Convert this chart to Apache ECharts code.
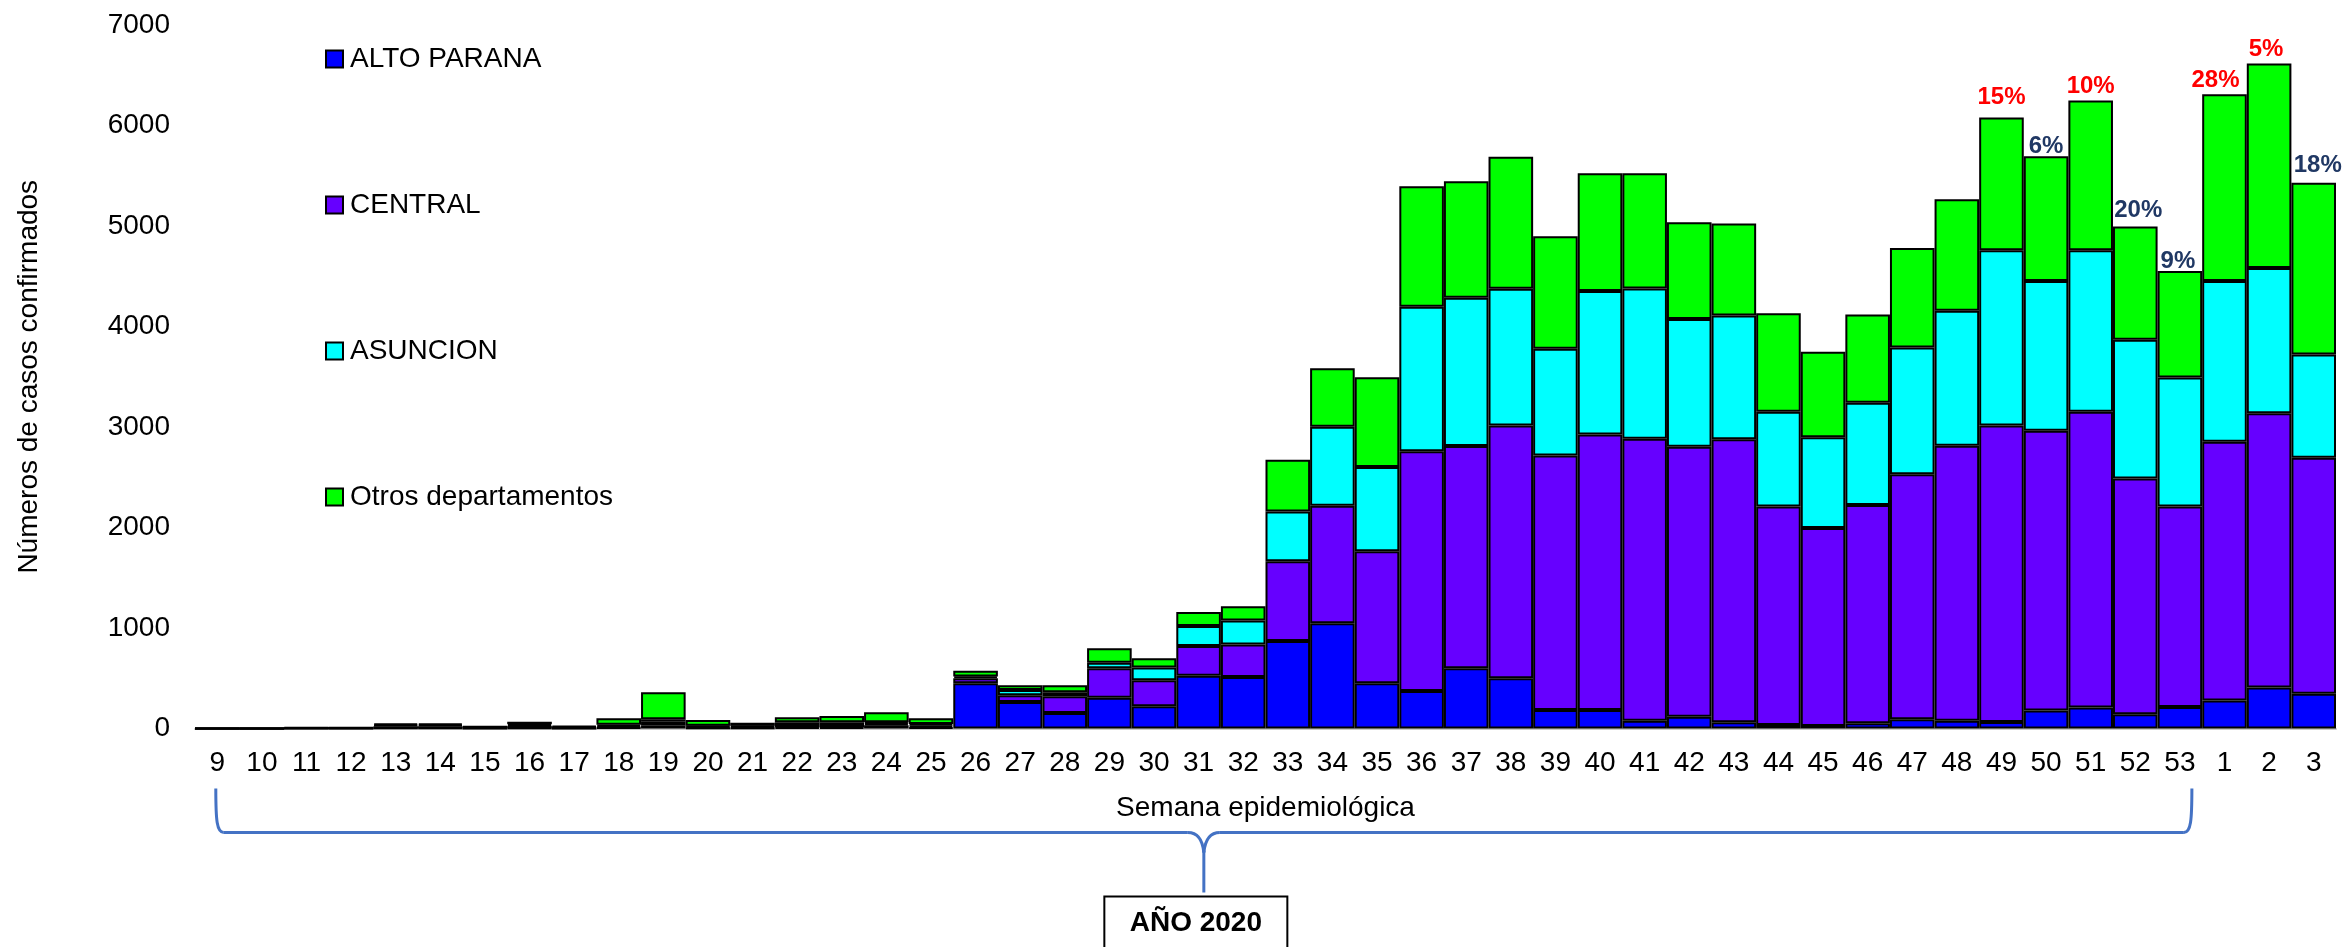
<!DOCTYPE html>
<html><head><meta charset="utf-8">
<script src="https://cdn.jsdelivr.net/npm/echarts@6/dist/echarts.min.js"></script>
<style>html,body{margin:0;padding:0;background:#fff}#c{width:2346px;height:947px}</style>
</head><body><div id="c"></div>
<script>
// ---- DATA ----
const weeks = ['9','10','11','12','13','14','15','16','17','18','19','20','21','22','23','24','25','26','27','28','29','30','31','32','33','34','35','36','37','38','39','40','41','42','43','44','45','46','47','48','49','50','51','52','53','1','2','3'];
const altoParana = [0,0,1,1,3,3,2,3,2,8,32,5,5,10,10,32,10,450,264,154,306,222,525,512,871,1048,451,373,600,500,183,183,76,118,63,36,26,51,91,78,65,180,208,142,215,278,408,346];
const central    = [0,0,3,4,20,20,8,25,8,15,40,12,12,25,25,15,18,50,66,166,293,258,297,323,794,1168,1312,2385,2211,2516,2534,2743,2807,2686,2814,2174,1969,2173,2438,2735,2949,2783,2943,2346,1995,2576,2729,2347];
const asuncion   = [0,0,2,2,12,12,5,15,6,15,20,10,10,27,27,15,17,18,53,40,56,127,198,240,493,786,839,1439,1474,1359,1062,1427,1496,1270,1233,941,904,1018,1261,1343,1745,1490,1608,1380,1283,1599,1444,1029];
const otros      = [0,0,2,3,15,15,5,23,10,63,268,58,31,49,62,99,56,57,47,70,143,93,140,141,516,582,893,1199,1160,1314,1119,1172,1146,964,914,982,850,877,992,1110,1320,1242,1489,1128,1060,1859,2037,1709];
const seriesNames = ['ALTO PARANA','CENTRAL','ASUNCION','Otros departamentos'];
const yTicks = [0,1000,2000,3000,4000,5000,6000,7000];
const pctWeeks  = ['49','50','51','52','53','1','2','3'];
const pctLabels = ['15%','6%','10%','20%','9%','28%','5%','18%'];
const pctRise   = [true,false,true,false,false,true,true,false];
const xAxisTitle = 'Semana epidemiológica';
const yAxisTitle = 'Números de casos confirmados';
const yearLabel = 'AÑO 2020';
const yearStart = '9', yearEnd = '53';

// ---- STYLE ----
const FONT = '"Liberation Sans", Arial, sans-serif';
const colors = ['#0000FF','#6600FF','#00FFFF','#00FF00'];
const pctOffsets = {'49':[0,-8],'50':[0,2],'51':[0,-2],'52':[3,-4],'53':[-2,2],'1':[-9,-2],'2':[-3,-2],'3':[4,-5]};

const otrosData = otros.map((v, i) => {
  const k = pctWeeks.indexOf(weeks[i]);
  if (k < 0) return v;
  return {
    value: v,
    label: {
      show: true, position: 'top', distance: 0,
      formatter: pctLabels[k],
      color: pctRise[k] ? '#FF0000' : '#203864',
      fontSize: 24, fontWeight: 'bold', fontFamily: FONT,
      offset: pctOffsets[weeks[i]] || [0,0]
    }
  };
});

const allData = [altoParana, central, asuncion, otrosData];

const chart = echarts.init(document.getElementById('c'), null, {renderer:'canvas', width:2346, height:947});
const option = {
  animation: false,
  backgroundColor: '#ffffff',
  textStyle: {fontFamily: FONT},
  grid: {left:195, right:10, top:25, bottom:218.5, containLabel:false},
  legend: {
    orient: 'vertical', left: 320, top: 40, itemGap: 118,
    itemWidth: 17, itemHeight: 17, icon: 'rect',
    itemStyle: {borderColor:'#000', borderWidth:2},
    textStyle: {fontSize:28, color:'#000', fontFamily:FONT, lineHeight:28, padding:[0,0,0,2]},
    data: seriesNames
  },
  xAxis: {
    type: 'category', data: weeks,
    axisTick: {show:false},
    axisLine: {show:true, lineStyle:{color:'#c8c8c8', width:2}},
    axisLabel: {fontSize:28, color:'#000', margin:21, interval:0, fontFamily:FONT},
    name: xAxisTitle, nameLocation:'middle', nameGap:66,
    nameTextStyle: {fontSize:28, color:'#000', fontFamily:FONT}
  },
  yAxis: {
    type: 'value', min: yTicks[0], max: yTicks[yTicks.length-1], interval: 1000,
    splitLine: {show:false}, axisLine:{show:false}, axisTick:{show:false},
    axisLabel: {fontSize:28, color:'#000', margin:25, fontFamily:FONT, formatter: v => String(v)},
    name: yAxisTitle, nameLocation:'middle', nameGap:152, nameRotate:90,
    nameTextStyle: {fontSize:28, color:'#000', fontFamily:FONT}
  },
  series: seriesNames.map((n, i) => ({
    name: n, type: 'bar', stack: 'total', data: allData[i],
    barCategoryGap: '0%', barGap: '0%',
    itemStyle: {color: colors[i], borderColor:'#000', borderWidth:2},
    emphasis: {disabled:true}
  }))
};
chart.setOption(option);

// brace + year box (aligned to the category axis)
const xs = chart.convertToPixel({xAxisIndex:0}, yearStart);
const xe = chart.convertToPixel({xAxisIndex:0}, yearEnd);
const base = chart.convertToPixel({yAxisIndex:0}, 0);
const L = xs - 1.5, R = xe + 12, cx = (L + R) / 2;
const yT = base + 60, yH = base + 104, yTip = base + 164;
const bs = {fill:null, stroke:'#4472C4', lineWidth:3};
const bx = cx - 8;
chart.setOption({
  graphic: [
    {type:'bezierCurve', shape:{x1:L, y1:yT, x2:L+8, y2:yH, cpx1:L, cpy1:yH-12, cpx2:L+1, cpy2:yH}, style:bs, silent:true},
    {type:'line', shape:{x1:L+8, y1:yH, x2:cx-16, y2:yH}, style:bs, silent:true},
    {type:'bezierCurve', shape:{x1:cx-16, y1:yH, x2:cx, y2:yH+20, cpx1:cx-2, cpy1:yH}, style:bs, silent:true},
    {type:'line', shape:{x1:cx, y1:yH+18, x2:cx, y2:yTip}, style:bs, silent:true},
    {type:'bezierCurve', shape:{x1:cx+16, y1:yH, x2:cx, y2:yH+20, cpx1:cx+2, cpy1:yH}, style:bs, silent:true},
    {type:'line', shape:{x1:cx+16, y1:yH, x2:R-8, y2:yH}, style:bs, silent:true},
    {type:'bezierCurve', shape:{x1:R-8, y1:yH, x2:R, y2:yT, cpx1:R-1, cpy1:yH, cpx2:R, cpy2:yH-12}, style:bs, silent:true},
    {type:'rect', shape:{x:bx-91.5, y:yTip+4, width:183, height:70}, style:{fill:'#fff', stroke:'#000', lineWidth:2}, silent:true},
    {type:'text', x:bx, y:yTip+31, style:{text:yearLabel, fontSize:28, fontWeight:'bold', fontFamily:FONT, fill:'#000', align:'center', verticalAlign:'middle'}, silent:true}
  ]
});
</script></body></html>
